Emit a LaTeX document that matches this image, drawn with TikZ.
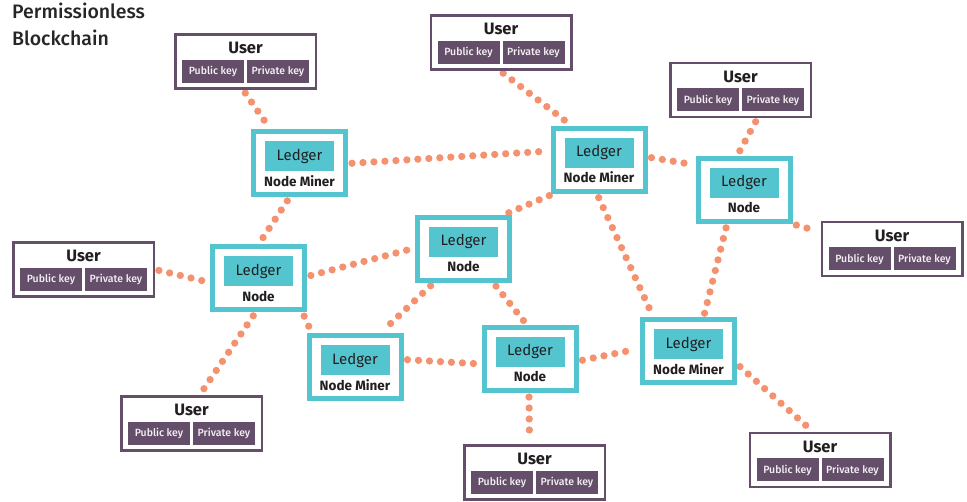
\documentclass[tikz,border=0pt]{standalone}
\usepackage{fontspec}
\setmainfont{Fira Sans}
\newfontfamily\medfont{Fira Sans Medium}
\usetikzlibrary{backgrounds}
\definecolor{purp}{HTML}{654E6A}
\definecolor{tealc}{HTML}{54C4CF}
\definecolor{salm}{HTML}{F4926F}
\definecolor{ink}{HTML}{231F20}
\tikzset{
  userbox/.style={draw=purp, line width=2.5pt, fill=white, minimum width=140.5pt, minimum height=54pt, inner sep=0pt},
  nodebox/.style={draw=tealc, line width=5pt, fill=white, minimum width=92pt, minimum height=63pt, inner sep=0pt},
  ledger/.style={fill=tealc, minimum width=69pt, minimum height=30pt, inner sep=0pt, text=ink, font=\fontsize{15}{17}\selectfont},
  nlabel/.style={inner sep=0pt, anchor=base, text=ink, font=\fontsize{13.5}{15}\selectfont\bfseries},
  utitle/.style={inner sep=0pt, anchor=base, text=ink, font=\fontsize{16.5}{18}\selectfont\bfseries},
  keybox/.style={fill=purp, minimum width=62pt, minimum height=23pt, inner sep=0pt, text=white!92!purp, font=\fontsize{10.5}{12}\medfont},
  link/.style={draw=salm, line width=7.3pt, dash pattern=on 0pt off 11pt, line cap=round, shorten <=4pt, shorten >=4pt},
  ttl/.style={inner sep=0pt, anchor=base west, text=black!85, font=\fontsize{19.5}{22}\medfont}
}
\newcommand\MyUser[2]{%
  \node[userbox] (#1) at (#2) {};
  \node[utitle] (#1t) at ([yshift=7.5pt]#1.center) {User};
  \node[keybox] (#1p) at ([xshift=-32.5pt,yshift=-10pt]#1.center) {Public key};
  \node[keybox] (#1q) at ([xshift=32.5pt,yshift=-10pt]#1.center) {Private key};
}
\newcommand\MyLedger[3]{%
  \node[nodebox] (#1) at (#2) {};
  \node[ledger] (#1l) at ([yshift=7.3pt]#1.center) {Ledger};
  \node[nlabel] (#1t) at ([yshift=-23pt]#1.center) {#3};
}
\begin{document}
\begin{tikzpicture}[x=1pt,y=-1pt]
\useasboundingbox (0,0) rectangle (967,502);
\node[ttl] (title1) at (12,19) {Permissionless};
\node[ttl] (title2) at (12,45.5) {Blockchain};

\MyUser{u1}{245.5,61.5}
\MyUser{u2}{501,42.5}
\MyUser{u3}{740.5,90}
\MyUser{u4}{83.5,269.5}
\MyUser{u5}{892,249}
\MyUser{u6}{191.5,423.5}
\MyUser{u7}{534.5,472.5}
\MyUser{u8}{820,460}

\MyLedger{n1}{299.5,163.5}{Node Miner}
\MyLedger{n2}{599,160}{Node Miner}
\MyLedger{n3}{744,190}{Node}
\MyLedger{n4}{258.5,278.5}{Node}
\MyLedger{n5}{463.5,249}{Node}
\MyLedger{n6}{355,367.5}{Node Miner}
\MyLedger{n7}{530,359}{Node}
\MyLedger{n8}{688.5,351.5}{Node Miner}

\begin{pgfonlayer}{background}
\draw[link] ([xshift=-2.5pt]u1.south) -- ([xshift=-29pt]n1.north);
\draw[link] ([xshift=-1pt]u2.south) -- ([xshift=-27pt]n2.north);
\draw[link] (n1.east) -- ([yshift=9pt]n2.west);
\draw[link] ([xshift=-10pt]n1.south) -- (n4.north);
\draw[link] ([yshift=3pt]n2.east) -- ([yshift=25pt]n3.west);
\draw[link] ([xshift=17pt]u3.south) -- ([xshift=-7pt]n3.north);
\draw[link] (n3.south east) -- ([yshift=17pt]u5.west);
\draw[link] ([xshift=-17pt]n3.south) -- ([xshift=15pt]n8.north);
\draw[link] ([xshift=-46pt]n2.south) -- ([xshift=40pt]n5.north);
\draw[link] ([xshift=-2pt]n2.south) -- ([xshift=-35pt]n8.north);
\draw[link] (u4.east) -- ([yshift=-4pt]n4.west);
\draw[link] ([yshift=2pt]n4.east) -- ([yshift=1pt]n5.west);
\draw[link] ([xshift=44pt]n4.south) -- ([xshift=-43pt]n6.north);
\draw[link] ([xshift=-3pt]n4.south) -- ([xshift=8pt]u6.north);
\draw[link] ([xshift=-30pt]n5.south) -- ([xshift=25pt]n6.north);
\draw[link] ([xshift=30pt]n5.south) -- ([xshift=-3pt]n7.north);
\draw[link] ([yshift=8pt]n6.east) -- ([yshift=-5pt]n7.west);
\draw[link] ([yshift=-2pt]n7.east) -- ([yshift=3pt]n8.west);
\draw[link] ([xshift=-1pt]n7.south) -- ([xshift=-5pt]u7.north);
\draw[link] ([yshift=-12.5pt]n8.east) -- ([xshift=-7pt]u8.north);
\end{pgfonlayer}
\end{tikzpicture}
\end{document}
